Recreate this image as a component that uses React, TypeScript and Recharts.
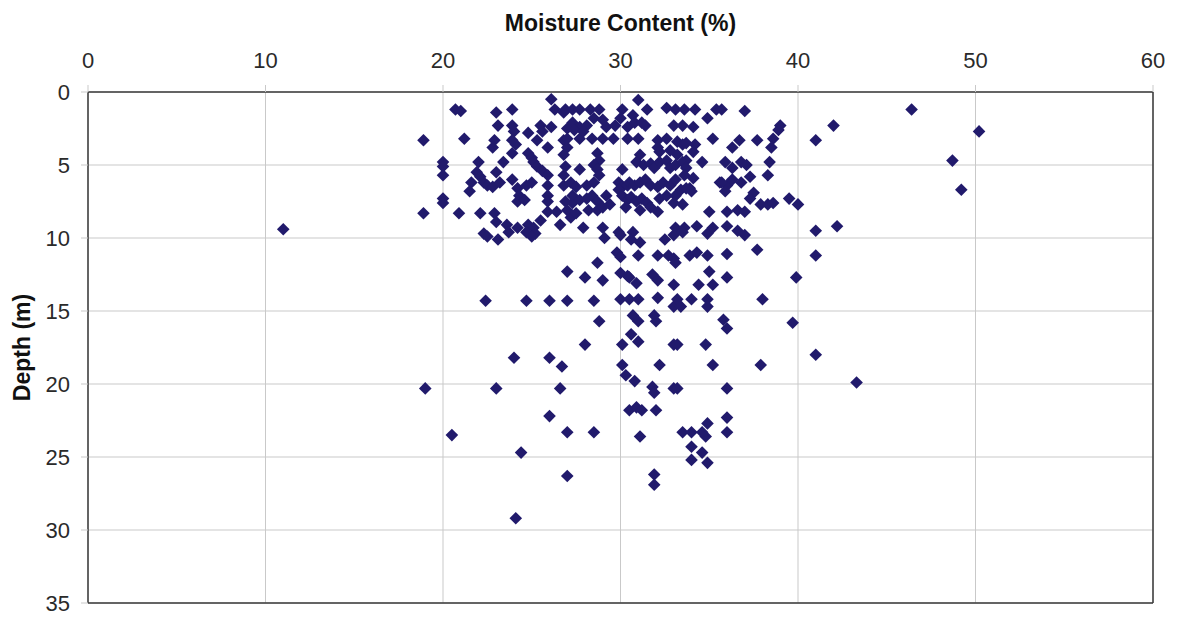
import { ScatterChart, Scatter, XAxis, YAxis, CartesianGrid, ReferenceLine } from 'recharts';

// [moisture %, depth m]
const shallowLeft: [number, number][] = [
  [26.1, 0.5], [20.7, 1.2], [21.0, 1.3], [23.0, 1.4], [23.9, 1.2], [26.3, 1.2], [26.8, 1.4], [27.3, 1.2],
  [18.9, 3.3], [21.2, 3.2], [23.1, 2.3], [23.9, 2.3], [24.0, 2.7], [24.8, 2.8], [25.3, 3.3], [25.5, 2.3],
  [25.6, 2.7], [26.1, 2.4], [22.9, 3.3], [22.8, 3.8], [23.9, 3.3], [24.1, 3.6], [25.9, 3.8], [26.8, 3.3],
  [27.0, 3.8], [24.8, 4.2], [25.0, 4.5], [23.9, 4.2], [26.8, 4.3], [20.0, 4.8], [20.0, 5.1], [20.0, 5.7],
  [22.0, 4.8], [23.4, 4.8], [25.1, 4.8], [25.3, 5.1], [25.6, 5.4], [25.9, 5.7], [21.9, 5.5], [22.1, 5.8],
  [22.3, 6.2], [22.5, 6.4], [22.8, 6.5], [21.6, 6.2], [21.5, 6.8], [23.0, 5.5], [23.2, 6.2], [23.9, 6.0],
  [24.2, 6.6], [24.3, 7.1], [24.7, 6.4], [25.0, 6.2], [25.9, 6.4], [25.9, 7.1], [25.9, 7.5], [26.8, 5.7],
  [26.8, 6.4], [20.0, 7.3], [20.0, 7.6], [24.2, 7.5], [24.6, 7.4], [18.9, 8.3], [20.9, 8.3], [22.1, 8.3],
  [22.9, 8.3], [23.0, 8.9], [23.6, 9.1], [23.7, 9.6], [22.3, 9.7], [22.5, 9.9], [23.1, 10.1], [24.2, 9.3],
  [24.8, 9.1], [25.1, 9.3], [25.5, 8.8], [24.7, 9.6], [25.2, 9.7], [26.6, 9.1], [27.2, 8.6], [27.0, 8.1],
  [27.3, 7.6], [25.9, 8.2], [26.4, 8.2], [25.0, 9.9],
];

const shallowMid: [number, number][] = [
  [31.0, 0.55], [26.9, 1.2], [27.7, 1.2], [28.3, 1.2], [28.8, 1.2], [30.1, 1.2], [30.7, 1.6], [31.5, 1.2],
  [32.6, 1.1], [33.1, 1.2], [33.6, 1.2], [34.2, 1.2], [35.4, 1.2], [34.9, 1.8], [27.3, 2.1], [27.0, 2.5],
  [27.7, 2.4], [28.1, 2.3], [28.5, 1.8], [29.0, 1.9], [29.2, 2.4], [29.7, 2.3], [30.0, 1.8], [30.4, 2.4],
  [30.8, 2.1], [31.2, 2.1], [31.4, 2.3], [33.0, 2.3], [33.5, 2.3], [34.1, 2.4], [35.2, 3.2], [27.0, 3.2],
  [27.7, 3.2], [28.4, 3.2], [29.0, 3.2], [29.6, 3.2], [30.4, 3.2], [31.0, 3.2], [27.4, 2.6], [27.9, 2.7],
  [32.1, 3.3], [32.6, 3.2], [33.2, 3.4], [33.5, 3.6], [33.7, 3.5], [34.2, 3.6], [34.1, 4.1], [32.1, 3.8],
  [32.2, 4.1], [32.8, 4.0], [33.2, 4.3], [33.7, 4.7], [28.7, 4.2], [28.8, 4.7], [28.5, 5.0], [31.1, 4.3],
  [30.9, 4.8], [31.3, 5.0], [31.7, 4.9], [31.9, 5.2], [32.2, 4.8], [32.6, 4.7], [32.8, 5.2], [33.1, 5.0],
  [33.5, 4.8], [33.7, 5.2], [34.6, 4.8], [26.9, 5.1], [27.7, 5.3], [28.7, 5.3], [28.8, 5.7], [30.1, 5.3],
  [29.9, 6.2], [30.1, 6.5], [30.4, 6.4], [30.5, 6.2], [30.8, 6.4], [31.1, 6.2], [31.4, 6.0], [31.7, 6.4],
  [32.1, 6.5], [32.4, 6.2], [32.8, 6.4], [33.1, 6.0], [33.6, 5.7], [34.1, 5.9], [33.9, 6.6], [35.6, 6.2],
  [36.0, 6.4], [36.3, 6.0], [27.2, 6.2], [27.5, 6.5], [28.1, 6.4], [28.5, 6.2], [26.9, 7.5], [27.3, 7.1],
  [27.7, 7.4], [28.1, 7.3], [28.4, 7.1], [28.7, 7.5], [29.2, 7.1], [27.5, 8.3], [28.2, 8.1], [28.7, 8.1],
  [29.0, 7.9], [29.4, 7.7], [29.9, 6.7], [30.1, 7.1], [30.4, 7.4], [30.6, 7.2], [30.9, 7.5], [31.2, 7.3],
  [31.5, 7.6], [30.3, 7.9], [31.1, 8.1], [31.7, 7.9], [32.2, 7.3], [32.6, 7.1], [33.1, 7.1], [33.4, 6.7],
  [33.7, 6.6], [34.0, 6.8], [33.0, 7.6], [33.5, 7.7], [32.1, 8.2], [35.0, 8.2], [36.0, 8.2], [36.6, 8.1],
  [27.9, 9.3], [29.0, 9.3], [29.9, 9.6], [30.7, 9.6], [29.1, 10.0], [31.1, 10.3], [32.5, 10.1], [33.1, 9.3],
  [33.6, 9.3], [34.3, 9.2], [34.9, 9.7], [35.2, 9.3], [36.0, 9.2], [36.6, 9.5],
];

const shallowRight: [number, number][] = [
  [35.7, 1.2], [37.0, 1.3], [39.0, 2.3], [38.9, 2.6], [42.0, 2.3], [41.0, 3.3], [36.7, 3.3], [36.3, 3.8],
  [37.7, 3.3], [38.6, 3.2], [38.5, 3.8], [35.9, 4.8], [36.3, 5.2], [36.8, 4.8], [37.1, 5.0], [38.4, 4.8],
  [37.3, 5.8], [38.3, 5.7], [35.7, 6.2], [35.9, 6.8], [36.8, 6.2], [37.5, 6.9], [37.3, 7.3], [37.9, 7.7],
  [38.3, 7.7], [38.6, 7.6], [39.5, 7.3], [40.0, 7.7], [37.0, 8.2], [37.0, 9.8], [41.0, 9.5], [42.2, 9.2],
  [46.4, 1.2], [50.2, 2.7], [48.7, 4.7], [49.2, 6.7], [11.0, 9.4],
];

const middle: [number, number][] = [
  [27.0, 12.3], [28.0, 12.7], [28.7, 11.7], [22.4, 14.3], [24.7, 14.3], [26.0, 14.3], [27.0, 14.3], [28.5, 14.3],
  [28.8, 15.7], [28.0, 17.3], [24.0, 18.2], [26.0, 18.2], [26.7, 18.8], [30.0, 9.8], [30.6, 10.1], [33.0, 9.8],
  [33.5, 9.6], [29.8, 11.0], [30.0, 11.3], [31.0, 11.2], [32.1, 11.2], [32.7, 11.2], [33.0, 11.4], [33.1, 11.7],
  [33.9, 11.2], [34.3, 11.0], [34.9, 11.2], [36.0, 11.1], [37.7, 10.8], [29.0, 12.9], [30.0, 12.4], [30.4, 12.6],
  [30.5, 12.7], [30.9, 13.1], [31.8, 12.5], [32.1, 12.9], [33.0, 13.2], [34.4, 13.2], [35.0, 12.3], [35.2, 13.2],
  [36.0, 12.7], [39.9, 12.7], [41.0, 11.2], [30.0, 14.2], [30.5, 14.2], [31.0, 14.2], [32.1, 14.1], [33.0, 14.7],
  [33.2, 14.2], [33.4, 14.7], [34.0, 14.2], [34.9, 14.2], [34.9, 14.7], [38.0, 14.2], [30.7, 15.3], [31.0, 15.7],
  [31.9, 15.3], [32.0, 15.7], [35.8, 15.6], [36.0, 16.2], [39.7, 15.8], [30.1, 17.3], [30.6, 16.6], [31.0, 17.1],
  [33.0, 17.3], [33.2, 17.3], [34.8, 17.3], [41.0, 18.0], [30.1, 18.7], [32.2, 18.7], [35.2, 18.7], [37.9, 18.7],
];

const deep: [number, number][] = [
  [30.3, 19.4], [30.8, 19.8], [19.0, 20.3], [23.0, 20.3], [26.6, 20.3], [26.0, 22.2], [20.5, 23.5], [24.4, 24.7],
  [27.0, 23.3], [28.5, 23.3], [30.5, 21.8], [30.9, 21.6], [31.2, 21.8], [32.0, 21.8], [31.1, 23.6], [27.0, 26.3],
  [24.1, 29.2], [31.8, 20.2], [31.9, 20.6], [33.0, 20.3], [33.2, 20.3], [36.0, 20.3], [43.3, 19.9], [36.0, 22.3],
  [36.0, 23.3], [34.9, 22.7], [33.5, 23.3], [34.0, 23.3], [34.6, 23.3], [34.8, 23.6], [34.0, 24.3], [34.6, 24.7],
  [34.0, 25.2], [34.9, 25.4], [31.9, 26.2], [31.9, 26.9],
];

const xTicks = [0, 10, 20, 30, 40, 50, 60];
const yTicks = [0, 5, 10, 15, 20, 25, 30, 35];

const data = [...shallowLeft, ...shallowMid, ...shallowRight, ...middle, ...deep].map(([m, d]) => ({ m, d }));

const MARKER = '#211a6c';
const FRAME = '#3a3a3a';
const GRID = '#c9c9c9';
const FONT = 'Arial, "Liberation Sans", sans-serif';

const Diamond = (props: any) => {
  const { cx, cy } = props;
  const r = 6.3;
  return <path d={`M${cx},${cy - r}L${cx + r},${cy}L${cx},${cy + r}L${cx - r},${cy}Z`} fill={MARKER} />;
};

export default function App() {
  return (
    <div style={{ position: 'absolute', left: 0, top: 0, background: '#fff', fontFamily: FONT }}>
      <ScatterChart width={1177} height={617} margin={{ top: 0, right: 24, bottom: 14, left: 0 }}>
        <CartesianGrid stroke={GRID} strokeWidth={1} />
        <XAxis
          type="number"
          dataKey="m"
          orientation="top"
          domain={[0, 60]}
          ticks={xTicks}
          height={92}
          tickSize={7}
          tickMargin={17}
          axisLine={{ stroke: FRAME, strokeWidth: 1.5 }}
          tickLine={{ stroke: GRID }}
          tick={{ fill: '#2a2a2a', fontSize: 22, fontFamily: FONT }}
          label={{ value: 'Moisture Content (%)', position: 'insideTop', offset: 15, fill: '#111', fontSize: 23, fontWeight: 700, fontFamily: FONT }}
        />
        <YAxis
          type="number"
          dataKey="d"
          reversed
          domain={[0, 35]}
          ticks={yTicks}
          width={88}
          tickSize={7}
          tickMargin={11}
          axisLine={{ stroke: FRAME, strokeWidth: 1.5 }}
          tickLine={{ stroke: GRID }}
          tick={{ fill: '#2a2a2a', fontSize: 22, fontFamily: FONT }}
          label={{
            value: 'Depth (m)',
            content: (p: any) => {
              const vb = p.viewBox;
              const x = 22;
              const y = vb.y + vb.height / 2;
              return (
                <text x={x} y={y} transform={`rotate(-90 ${x} ${y})`} textAnchor="middle" dominantBaseline="central"
                  fill="#111" fontSize={23} fontWeight={700} fontFamily={FONT}>
                  Depth (m)
                </text>
              );
            },
          }}
        />
        <ReferenceLine x={60} stroke={FRAME} strokeWidth={1.5} />
        <ReferenceLine y={35} stroke={FRAME} strokeWidth={1.5} />
        <Scatter data={data} shape={Diamond} isAnimationActive={false} />
      </ScatterChart>
    </div>
  );
}
